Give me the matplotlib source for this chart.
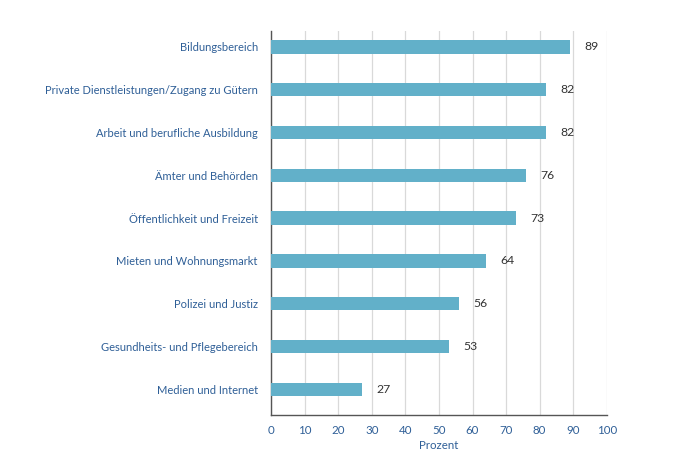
import matplotlib.pyplot as plt

categories = [
    'Bildungsbereich',
    'Private Dienstleistungen/Zugang zu Gütern',
    'Arbeit und berufliche Ausbildung',
    'Ämter und Behörden',
    'Öffentlichkeit und Freizeit',
    'Mieten und Wohnungsmarkt',
    'Polizei und Justiz',
    'Gesundheits- und Pflegebereich',
    'Medien und Internet',
]
values = [89, 82, 82, 76, 73, 64, 56, 53, 27]
xticks = [0, 10, 20, 30, 40, 50, 60, 70, 80, 90, 100]

plt.rcParams['font.family'] = ['Lato', 'DejaVu Sans']

label_blue = '#2f5f97'
bar_color = '#62b0c9'

fig = plt.figure(figsize=(6.75, 4.72), dpi=100)
ax = fig.add_axes([0.4015, 0.121, 0.4975, 0.813])

pos = list(range(len(categories)))
ax.barh(pos, values, height=0.31, color=bar_color, zorder=3)

# value labels right of the bars
for y, v in zip(pos, values):
    ax.text(v + 4.3, y, str(v), va='center', ha='left', fontsize=8.8, color='#333333')

ax.set_yticks(pos)
ax.set_yticklabels(categories, fontsize=8.0, color=label_blue)
ax.set_ylim(8.6, -0.37)
ax.set_xlim(0, 100)
ax.set_xticks(xticks)
ax.set_xticklabels([str(t) for t in xticks], fontsize=8.3, color=label_blue)
ax.set_xlabel('Prozent', fontsize=8.3, color=label_blue, labelpad=3)

ax.grid(axis='x', color='#d9d9d9', linewidth=0.9, zorder=0)
ax.tick_params(axis='x', length=0, pad=7)
ax.tick_params(axis='y', length=0, pad=9.5)
for s in ['top', 'right']:
    ax.spines[s].set_visible(False)
for s in ['left', 'bottom']:
    ax.spines[s].set_color('#555555')
    ax.spines[s].set_linewidth(1.0)

fig.savefig('out.png', dpi=100)
